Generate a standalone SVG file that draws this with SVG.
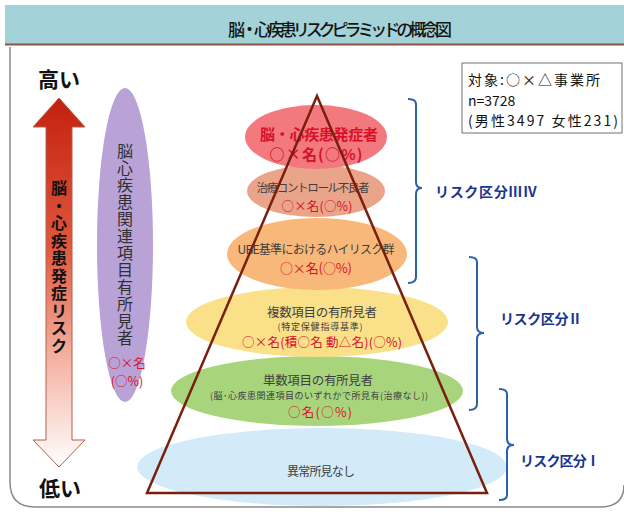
<svg xmlns="http://www.w3.org/2000/svg" width="624" height="512" viewBox="0 0 624 512">
<defs>
<linearGradient id="arrowGrad" x1="0" y1="98" x2="0" y2="467" gradientUnits="userSpaceOnUse">
<stop offset="0" stop-color="#c4200f"/>
<stop offset="0.4" stop-color="#e0573c"/>
<stop offset="0.7" stop-color="#f4b0a0"/>
<stop offset="1" stop-color="#ffffff"/>
</linearGradient>
<style>
text{font-family:"Noto Sans CJK JP","Noto Sans",sans-serif;}
.c{text-anchor:middle;dominant-baseline:central;}
.g{fill:#404040;}
.r{fill:#d8102a;}
.lbl{fill:#1a3590;font-weight:bold;font-size:14px;dominant-baseline:central;}
.br{fill:none;stroke:#2a63a8;stroke-width:2;}
.info{font-size:14px;fill:#111;dominant-baseline:central;}
</style>
</defs>
<rect x="0" y="0" width="624" height="512" fill="#ffffff"/>
<g id="title">
<rect x="5" y="5" width="619" height="39" fill="#a3d3d8"/>
<line x1="5" y1="44.5" x2="624" y2="44.5" stroke="#8a5440" stroke-width="2"/>
<text x="340" y="28" class="c" font-size="17" font-weight="500" fill="#151515" textLength="224">脳・心疾患リスクピラミッドの概念図</text>
</g>
<path d="M10,47 L10,482 Q10,507 35,507 L600,507 Q624,507 624,485" fill="none" stroke="#8a8a8a" stroke-width="1.5"/>
<g id="risk-arrow">
<path d="M59,98 L85,127 L72,127 L72,440 L85,440 L59,467 L33,440 L46,440 L46,127 L33,127 Z" fill="url(#arrowGrad)" stroke="#b0604c" stroke-width="1"/>
<text x="59" y="78" class="c" font-size="21" font-weight="bold" fill="#111">高い</text>
<text x="60" y="487" class="c" font-size="21" font-weight="bold" fill="#111">低い</text>
<text x="59" y="187" class="c" font-size="16" font-weight="bold" fill="#111"><tspan x="59">脳</tspan><tspan x="59" dy="17.5">・</tspan><tspan x="59" dy="17.5">心</tspan><tspan x="59" dy="17.5">疾</tspan><tspan x="59" dy="17.5">患</tspan><tspan x="59" dy="17.5">発</tspan><tspan x="59" dy="17.5">症</tspan><tspan x="59" dy="17.5">リ</tspan><tspan x="59" dy="17.5">ス</tspan><tspan x="59" dy="17.5">ク</tspan></text>
</g>
<g id="related-findings">
<ellipse cx="125" cy="245" rx="28" ry="157" fill="#b9a2d6"/>
<text x="125" y="150" class="c" font-size="16" fill="#303030"><tspan x="125">脳</tspan><tspan x="125" dy="17">心</tspan><tspan x="125" dy="17">疾</tspan><tspan x="125" dy="17">患</tspan><tspan x="125" dy="17">関</tspan><tspan x="125" dy="17">連</tspan><tspan x="125" dy="17">項</tspan><tspan x="125" dy="17">目</tspan><tspan x="125" dy="17">有</tspan><tspan x="125" dy="17">所</tspan><tspan x="125" dy="17">見</tspan><tspan x="125" dy="17">者</tspan></text>
<text x="127" y="362" class="c r" font-size="12.5">○×名</text>
<text x="127" y="380" class="c r" font-size="12.5">(○%)</text>
</g>
<g id="normal">
<ellipse cx="322" cy="467" rx="185" ry="39" fill="#d3ebf8"/>
<text x="321" y="470" class="c g" font-size="12" textLength="68">異常所見なし</text>
</g>
<g id="single-item">
<ellipse cx="317" cy="391" rx="146" ry="35" fill="#a8d57c"/>
<text x="318" y="379" class="c g" font-size="12.5" textLength="110">単数項目の有所見者</text>
<text x="319" y="395" class="c g" font-size="9" textLength="218">(脳･心疾患関連項目のいずれかで所見有(治療なし))</text>
<text x="320" y="411" class="c r" font-size="12.5" textLength="64">○名(○%)</text>
</g>
<g id="multi-item">
<ellipse cx="317" cy="322" rx="131" ry="35" fill="#fbe08a"/>
<text x="322" y="311" class="c g" font-size="12.5" textLength="110">複数項目の有所見者</text>
<text x="320" y="326" class="c g" font-size="9" textLength="85">(特定保健指導基準)</text>
<text x="322" y="341" class="c r" font-size="12.5" textLength="160">○×名(積○名 動△名)(○%)</text>
</g>
<g id="ube-high-risk">
<ellipse cx="317" cy="254" rx="90" ry="36" fill="#f8b87a"/>
<text x="316" y="248" class="c g" font-size="12" textLength="157">UBE基準におけるハイリスク群</text>
<text x="316" y="267" class="c r" font-size="13" textLength="72">○×名(○%)</text>
</g>
<g id="poor-control">
<ellipse cx="316" cy="191" rx="69" ry="26" fill="#eaa48a"/>
<text x="313" y="187" class="c g" font-size="11.5" textLength="113">治療コントロール不良者</text>
<text x="317" y="205" class="c r" font-size="12.5" textLength="71">○×名(○%)</text>
</g>
<g id="onset">
<ellipse cx="316" cy="137" rx="71" ry="32" fill="#f27a7e"/>
<text x="319" y="133" class="c r" font-size="15" font-weight="bold" textLength="118">脳・心疾患発症者</text>
<text x="316" y="153" class="c r" font-size="15" font-weight="bold" textLength="93">○×名(○%)</text>
</g>
<g id="connectors">
<path d="M317,96 L487,493 L147,493 Z" fill="none" stroke="#7a1e0e" stroke-width="2.5" stroke-linejoin="miter"/>
<path class="br" d="M408,99 Q416,99 416,104 L416,182 Q416,188 422,188 Q416,188 416,194 L416,277 Q416,283 408,283"/>
<path class="br" d="M469,257 Q477,257 477,262 L477,327 Q477,333 484,333 Q477,333 477,339 L477,404 Q477,410 469,410"/>
<path class="br" d="M499,389 Q507,389 507,394 L507,439 Q507,445 514,445 Q507,445 507,451 L507,495 Q507,500 499,500"/>
</g>
<g id="labels">
<text x="435" y="191" class="lbl" textLength="102">リスク区分ⅢⅣ</text>
<text x="500" y="318" class="lbl" textLength="82">リスク区分Ⅱ</text>
<text x="520" y="460" class="lbl" textLength="80">リスク区分Ⅰ</text>
</g>
<g id="info-box">
<rect x="462" y="63" width="160" height="70" fill="#ffffff" stroke="#707070" stroke-width="1"/>
<text x="468" y="79" class="info" textLength="132">対象:○×△事業所</text>
<text x="468" y="99.5" class="info">n=3728</text>
<text x="468" y="120" class="info" textLength="150">(男性3497 女性231)</text>
</g>
</svg>
